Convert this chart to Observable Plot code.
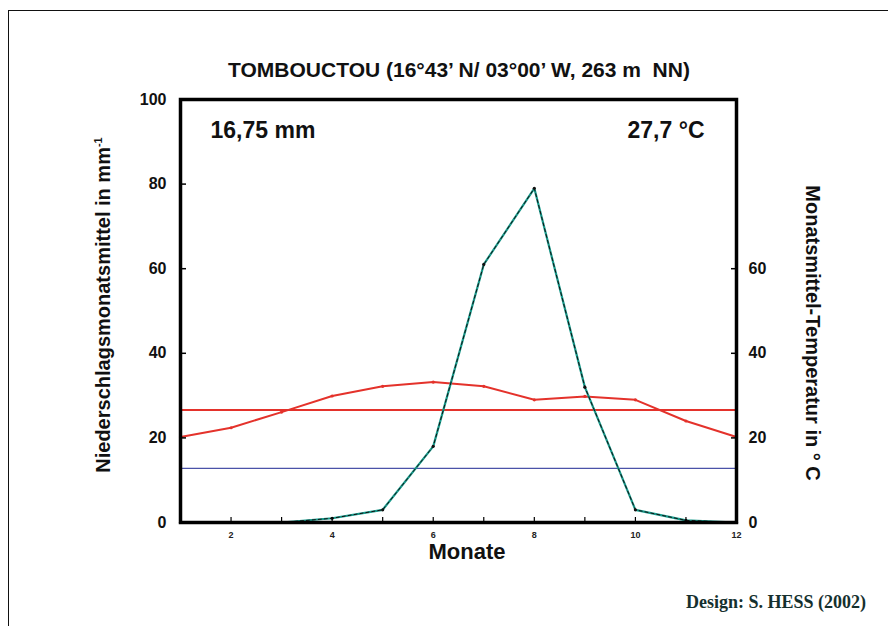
<!DOCTYPE html>
<html>
<head>
<meta charset="utf-8">
<script src="https://cdn.jsdelivr.net/npm/d3@7"></script>
<script src="https://cdn.jsdelivr.net/npm/@observablehq/plot@0.6"></script>
<style>
  html, body { margin: 0; padding: 0; background: #fff; }
  #wrap { position: relative; width: 888px; height: 626px; overflow: hidden; font-family: "Liberation Sans", Arial, sans-serif; }
  #border { position: absolute; left: 8px; top: 10px; width: 900px; height: 700px; border-left: 1.5px solid #111; border-top: 1.5px solid #111; }
  .abs { position: absolute; white-space: pre; color: #111; }
  #title { left: 459px; top: 70px; transform: translate(-50%, -50%); font-size: 21px; font-weight: bold; }
  #ylab { left: 103px; top: 305px; transform: translate(-50%, -50%) rotate(-90deg); font-size: 20px; font-weight: bold; }
  #ylab2 { left: 812px; top: 333px; transform: translate(-50%, -50%) rotate(90deg); font-size: 20px; font-weight: bold; }
  #xlab { left: 467px; top: 552px; transform: translate(-50%, -50%); font-size: 22px; font-weight: bold; }
  #caption { left: 776px; top: 602px; transform: translate(-50%, -50%); font-family: "Liberation Serif", "DejaVu Serif", serif; font-size: 18px; font-weight: bold; color: #15302e; }
  svg { position: absolute; left: 0; top: 0; }
</style>
</head>
<body>
<div id="wrap">
  <div id="border"></div>
</div>
<script>
// ---- data ----
const months = [1, 2, 3, 4, 5, 6, 7, 8, 9, 10, 11, 12];
const precipitation = [0, 0, 0, 1, 3, 18, 61, 79, 32, 3, 0.5, 0];
const temperature = [20.2, 22.4, 26.1, 29.9, 32.2, 33.2, 32.2, 29.0, 29.8, 29.0, 24.0, 20.2];
const precipMeanLine = [12.8];
const tempMeanLine = [26.6];
const leftTicks = [0, 20, 40, 60, 80, 100];
const rightTicks = [0, 20, 40, 60];
const monthTicks = [2, 4, 6, 8, 10, 12];
const monthTickLabels = ["2", "4", "6", "8", "10", "12"];
const titleText = "TOMBOUCTOU (16°43’ N/ 03°00’ W, 263 m  NN)";
const precipLabel = "16,75 mm";
const tempLabel = "27,7 °C";

const precipData = months.map((m, i) => ({month: m, value: precipitation[i]}));
const tempData = months.map((m, i) => ({month: m, value: temperature[i]}));

const teal = "#17998a";
const red = "#e4322b";

const chart = Plot.plot({
  width: 888,
  height: 626,
  marginLeft: 180,
  marginRight: 152,
  marginTop: 99,
  marginBottom: 104,
  style: {fontFamily: "Liberation Sans, Arial, sans-serif", background: "transparent", overflow: "visible"},
  x: {domain: [1, 12]},
  y: {domain: [0, 100]},
  marks: [
    // horizontal reference lines
    Plot.ruleY(tempMeanLine, {stroke: red, strokeWidth: 2.2}),
    Plot.ruleY(precipMeanLine, {stroke: "#4a52a8", strokeWidth: 1.2}),
    // temperature
    Plot.line(tempData, {x: "month", y: "value", stroke: red, strokeWidth: 2}),
    Plot.dot(tempData, {x: "month", y: "value", r: 1.6, fill: red, stroke: "none"}),
    // precipitation
    Plot.line(precipData, {x: "month", y: "value", stroke: teal, strokeWidth: 2.2}),
    Plot.line(precipData, {x: "month", y: "value", stroke: "#111", strokeWidth: 1, strokeDasharray: "3,3"}),
    Plot.dot(precipData, {x: "month", y: "value", r: 1.6, fill: "#111", stroke: "none"}),
    // frame
    Plot.frame({stroke: "#000", strokeWidth: 3.5}),
    // left axis: inward ticks + labels
    Plot.axisY({anchor: "left", ticks: leftTicks, tickSize: 6, dx: 6, tickFormat: () => "", label: null, stroke: "#000", strokeWidth: 1.5}),
    Plot.axisY({anchor: "left", ticks: leftTicks, tickSize: 0, tickPadding: 14, label: null, fontSize: 16, fontWeight: "bold", fill: "#111"}),
    // right axis
    Plot.axisY({anchor: "right", ticks: rightTicks, tickSize: 6, dx: -6, tickFormat: () => "", label: null, stroke: "#000", strokeWidth: 1.5}),
    Plot.axisY({anchor: "right", ticks: rightTicks, tickSize: 0, tickPadding: 12, label: null, fontSize: 16, fontWeight: "bold", fill: "#111"}),
    // bottom axis
    Plot.axisX({anchor: "bottom", ticks: months, tickSize: 5, dy: -5, tickFormat: () => "", label: null, stroke: "#000", strokeWidth: 1.2}),
    Plot.axisX({anchor: "bottom", ticks: monthTicks, tickSize: 0, tickPadding: 9, tickFormat: (d, i) => monthTickLabels[i], label: null, fontSize: 9, fontWeight: "bold", fill: "#222"}),
    // annotations inside the frame
    Plot.text([precipLabel], {frameAnchor: "top-left", dx: 30, dy: 22, fontSize: 23, fontWeight: "bold", fill: "#111", textAnchor: "start"}),
    Plot.text([tempLabel], {frameAnchor: "top-right", dx: -32, dy: 22, fontSize: 23, fontWeight: "bold", fill: "#111", textAnchor: "end"})
  ]
});

const wrap = document.getElementById("wrap");
wrap.appendChild(chart);

function addText(id, html) {
  const d = document.createElement("div");
  d.id = id; d.className = "abs"; d.innerHTML = html;
  wrap.appendChild(d);
}
addText("title", titleText);
addText("ylab", "Niederschlagsmonatsmittel in mm<sup style=\"font-size:11px\">-1</sup>");
addText("ylab2", "Monatsmittel-Temperatur in ° C");
addText("xlab", "Monate");
addText("caption", "Design: S. HESS (2002)");
</script>
</body>
</html>
